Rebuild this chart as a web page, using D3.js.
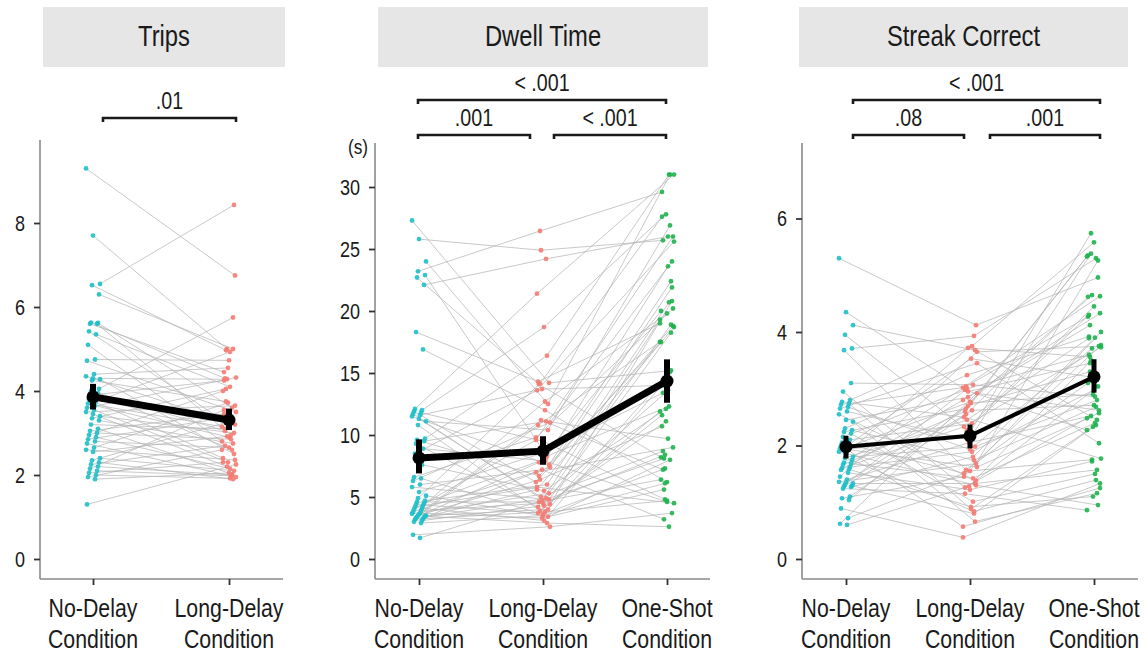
<!DOCTYPE html>
<html><head><meta charset="utf-8">
<script src="https://cdn.jsdelivr.net/npm/d3@7"></script>
<style>
body{margin:0;background:#fff;}
svg text{font-family:"Liberation Sans",Arial,sans-serif;fill:#1a1a1a;}
</style></head><body>
<svg id="c" width="1146" height="654"></svg>
<script>
// ---------------- data ----------------
const conditions2 = ["No-Delay", "Long-Delay"];
const conditions3 = ["No-Delay", "Long-Delay", "One-Shot"];
const panelTitles = ["Trips", "Dwell Time", "Streak Correct"];

const tripsNoDelay = [9.3,7.7,6.55,6.52,6.3,5.63,5.62,5.6,5.6,5.42,5.35,5.1,4.75,4.72,4.4,4.35,4.3,4.28,4.25,4.05,4.0,3.95,3.9,3.85,3.8,3.75,3.7,3.65,3.6,3.55,3.5,3.45,3.4,3.35,3.3,3.2,3.1,3.05,3.0,2.95,2.9,2.85,2.8,2.75,2.65,2.6,2.55,2.4,2.35,2.3,2.25,2.2,2.15,2.1,2.05,2.0,1.95,1.9,1.3];
const tripsLongDelay = [6.75,5.0,8.43,4.97,5.0,4.3,3.6,4.45,2.95,3.3,4.1,2.8,4.73,3.5,4.55,3.2,4.28,2.5,3.75,5.75,3.05,2.6,4.25,3.4,2.4,4.93,3.15,2.9,4.32,2.3,3.65,2.2,3.0,4.05,2.75,3.1,2.02,3.45,2.85,4.0,2.15,3.35,2.65,1.95,3.72,2.36,2.92,2.1,3.25,1.9,2.7,2.0,3.55,1.98,2.3,1.92,2.6,2.05,2.25];

const dwellNoDelay = [27.3,25.8,24.0,23.2,22.9,22.7,22.1,18.3,16.9,12.1,12.0,11.9,11.8,11.7,11.6,11.5,11.3,11.1,10.8,9.7,9.6,9.5,9.3,8.9,8.5,7.6,6.6,6.5,6.3,6.0,5.8,5.4,5.1,4.9,4.7,4.6,4.5,4.4,4.3,4.2,4.1,4.0,3.9,3.8,3.7,3.65,3.6,3.5,3.5,3.45,3.4,3.35,3.3,3.25,3.2,3.1,3.0,2.9,1.95,1.7];
const dwellLongDelay = [14.2,24.9,12.5,26.45,8.3,14.1,24.2,14.3,12.0,21.4,18.7,6.2,9.5,4.4,13.7,7.6,5.0,10.4,3.9,16.4,6.7,11.1,4.2,7.9,13.6,5.5,9.8,3.6,11.0,7.2,4.8,8.5,3.4,14.15,6.0,4.6,8.1,3.7,12.7,5.8,3.1,9.6,4.5,7.4,3.3,5.3,11.2,4.0,6.4,2.9,7.8,4.9,10.8,3.8,5.6,4.3,7.0,3.5,2.6,4.7];
const dwellOneShot = [15.2,25.7,31.0,29.6,12.3,8.2,26.0,19.0,6.2,31.0,27.8,18.8,4.8,20.8,14.0,22.4,8.7,26.9,11.6,31.0,17.5,9.7,19.3,4.6,25.6,12.1,20.2,7.3,24.0,3.2,18.25,13.4,8.0,27.6,20.7,6.4,23.6,11.9,19.8,4.5,14.4,26.0,8.4,21.9,5.6,18.9,7.2,15.1,10.7,2.6,20.0,13.6,17.5,4.7,18.7,11.1,9.0,6.1,3.7,8.1];

const streakNoDelay = [5.30,4.35,4.12,3.95,3.71,3.68,3.10,2.95,2.80,2.77,2.74,2.72,2.68,2.65,2.6,2.55,2.45,2.42,2.30,2.27,2.24,2.21,2.15,2.10,2.05,2.02,2.0,1.97,1.95,1.93,1.89,1.85,1.80,1.78,1.74,1.70,1.68,1.66,1.62,1.60,1.58,1.57,1.52,1.45,1.40,1.36,1.35,1.33,1.31,1.29,1.28,1.27,1.24,1.10,1.07,1.04,0.89,0.72,0.62,0.60];
const streakLongDelay = [4.12,2.95,3.68,2.27,3.93,1.57,3.07,1.26,3.75,2.50,0.88,3.02,1.93,3.45,2.10,1.38,2.85,0.66,3.24,1.74,2.65,1.01,2.98,2.39,1.51,3.53,0.57,2.77,1.62,2.2,1.30,3.72,1.98,2.45,0.84,3.04,1.42,2.60,1.89,2.33,0.92,2.80,1.22,3.65,2.05,1.68,2.70,1.33,3.0,0.80,2.55,1.8,1.15,2.62,1.45,2.75,0.38,1.55,2.92,1.28];
const streakOneShot = [4.96,3.45,2.45,4.30,5.30,3.10,2.86,2.48,5.58,1.77,2.33,4.63,3.71,2.04,5.38,3.04,4.12,1.16,3.92,2.68,5.35,1.50,2.27,4.45,3.77,3.20,1.25,4.65,2.57,5.74,0.95,3.56,2.80,3.89,1.39,4.27,2.40,5.33,2.98,3.73,1.10,4.33,1.72,3.75,2.52,5.26,3.3,1.57,3.6,2.36,4.62,3.90,0.86,2.71,4.0,2.9,1.33,1.75,2.62,3.50];

const tripsMean = [3.86, 3.31], tripsLow = [3.56, 3.07], tripsHigh = [4.17, 3.58];
const dwellMean = [8.15, 8.7, 14.35], dwellLow = [6.9, 7.6, 12.6], dwellHigh = [9.65, 9.9, 16.1];
const streakMean = [1.98, 2.17, 3.21], streakLow = [1.77, 1.95, 2.93], streakHigh = [2.17, 2.37, 3.52];

const tripsTicks = [0, 2, 4, 6, 8];
const dwellTicks = [0, 5, 10, 15, 20, 25, 30];
const streakTicks = [0, 2, 4, 6];

const tripsSigLabels = [".01"];
const dwellSigLabels = ["< .001", ".001", "< .001"];
const streakSigLabels = ["< .001", ".08", ".001"];

const conditionColors = ["#1fbfc8", "#f47c73", "#1fb34f"];

// ---------------- layout ----------------
const svg = d3.select("#c");
const axisBottomY = 579;
const NARROW = 0.82;

function addText(parent, x, y, str, size, anchor) {
  return parent.append("text")
    .attr("transform", `translate(${x},${y}) scale(${NARROW},1)`)
    .attr("text-anchor", anchor || "middle")
    .attr("font-size", size).text(str);
}

const panels = [
  { title: panelTitles[0], cats: conditions2, series: [tripsNoDelay, tripsLongDelay],
    mean: tripsMean, lo: tripsLow, hi: tripsHigh, ticks: tripsTicks, ymax: 10,
    yTopPx: 139, axisX: 40, axisTop: 140, xRange: [93, 229], xEnd: 283,
    box: [43, 285], lineW: 7, barW: 6, unit: null,
    brackets: [{a: 0, b: 1, da: 10, db: 7, y: 118, label: tripsSigLabels[0]}] },
  { title: panelTitles[1], cats: conditions3, series: [dwellNoDelay, dwellLongDelay, dwellOneShot],
    mean: dwellMean, lo: dwellLow, hi: dwellHigh, ticks: dwellTicks, ymax: 30,
    yTopPx: 187, axisX: 375, axisTop: 143, xRange: [419, 667], xEnd: 710,
    box: [378, 708], lineW: 7, barW: 6, unit: "(s)",
    brackets: [{a: 0, b: 2, da: -1, db: -1, y: 100, label: dwellSigLabels[0]},
               {a: 0, b: 1, da: -1, db: -13, y: 135, label: dwellSigLabels[1]},
               {a: 1, b: 2, da: 11, db: -1, y: 135, label: dwellSigLabels[2]}] },
  { title: panelTitles[2], cats: conditions3, series: [streakNoDelay, streakLongDelay, streakOneShot],
    mean: streakMean, lo: streakLow, hi: streakHigh, ticks: streakTicks, ymax: 6,
    yTopPx: 218.5, axisX: 802, axisTop: 143, xRange: [846, 1094], xEnd: 1138,
    box: [799, 1128], lineW: 4, barW: 5, unit: null,
    brackets: [{a: 0, b: 2, da: 7, db: 6, y: 100, label: streakSigLabels[0]},
               {a: 0, b: 1, da: 7, db: -6, y: 135, label: streakSigLabels[1]},
               {a: 1, b: 2, da: 20, db: 6, y: 135, label: streakSigLabels[2]}] }
];

function jitter(i, c) { return ((i * 37 + c * 13) % 15) - 7; }

panels.forEach(p => {
  const g = svg.append("g");
  const y = d3.scaleLinear().domain([0, p.ymax]).range([559, p.yTopPx]);
  const x = d3.scalePoint().domain(p.cats).range(p.xRange);

  // header
  g.append("rect").attr("x", p.box[0]).attr("y", 7).attr("width", p.box[1] - p.box[0]).attr("height", 60)
    .attr("fill", "#e6e6e6");
  addText(g, (p.box[0] + p.box[1]) / 2, 46, p.title, 29);

  // brackets
  p.brackets.forEach(b => {
    const x1 = x(p.cats[b.a]) + b.da, x2 = x(p.cats[b.b]) + b.db;
    g.append("path").attr("d", `M${x1},${b.y + 4}V${b.y}H${x2}V${b.y + 4}`)
      .attr("fill", "none").attr("stroke", "#1a1a1a").attr("stroke-width", 2.6);
    addText(g, (x1 + x2) / 2, b.y - 9, b.label, 24);
  });

  // participant lines
  const n = p.series[0].length;
  const lineGen = d3.line().x(d => d[0]).y(d => d[1]);
  const pts = d3.range(n).map(i => p.series.map((s, c) => [x(p.cats[c]) + jitter(i, c), y(s[i])]));
  g.append("g").selectAll("path").data(pts).join("path")
    .attr("d", lineGen).attr("fill", "none").attr("stroke", "#b4b4b4")
    .attr("stroke-width", 0.9).attr("stroke-opacity", 0.8);

  // participant points
  p.series.forEach((s, c) => {
    g.append("g").selectAll("circle").data(s).join("circle")
      .attr("cx", (d, i) => x(p.cats[c]) + jitter(i, c)).attr("cy", d => y(d))
      .attr("r", 2.4).attr("fill", conditionColors[c]).attr("fill-opacity", 0.9);
  });

  // mean line
  g.append("path").datum(p.mean).attr("d", d3.line().x((d, i) => x(p.cats[i])).y(d => y(d)))
    .attr("fill", "none").attr("stroke", "#000").attr("stroke-width", p.lineW);
  // error bars
  g.append("g").selectAll("line").data(p.mean).join("line")
    .attr("x1", (d, i) => x(p.cats[i])).attr("x2", (d, i) => x(p.cats[i]))
    .attr("y1", (d, i) => y(p.lo[i])).attr("y2", (d, i) => y(p.hi[i]))
    .attr("stroke", "#000").attr("stroke-width", p.barW);
  g.append("g").selectAll("circle").data(p.mean).join("circle")
    .attr("cx", (d, i) => x(p.cats[i])).attr("cy", d => y(d)).attr("r", 6.5).attr("fill", "#000");

  // axes lines
  g.append("line").attr("x1", p.axisX).attr("x2", p.axisX).attr("y1", p.axisTop).attr("y2", axisBottomY)
    .attr("stroke", "#8a8a8a").attr("stroke-width", 1.6);
  g.append("line").attr("x1", p.axisX).attr("x2", p.xEnd).attr("y1", axisBottomY).attr("y2", axisBottomY)
    .attr("stroke", "#8a8a8a").attr("stroke-width", 1.6);

  // y axis ticks
  const ya = g.append("g").attr("transform", `translate(${p.axisX},0)`)
    .call(d3.axisLeft(y).tickValues(p.ticks).tickSize(6).tickPadding(8).tickFormat(d3.format("d")));
  ya.select(".domain").remove();
  ya.attr("font-family", null).attr("font-size", null);
  ya.selectAll(".tick line").attr("stroke", "#333").attr("stroke-width", 1.8);
  ya.selectAll(".tick text").attr("font-size", 22).attr("fill", "#1a1a1a")
    .attr("x", null).attr("transform", `translate(-15,0) scale(${NARROW},1)`);

  // x axis ticks
  const xa = g.append("g").attr("transform", `translate(0,${axisBottomY})`)
    .call(d3.axisBottom(x).tickSize(6).tickFormat(""));
  xa.select(".domain").remove();
  xa.attr("font-family", null);
  xa.selectAll(".tick line").attr("stroke", "#333").attr("stroke-width", 1.8);
  p.cats.forEach(cat => {
    addText(g, x(cat), 617, cat, 26);
    addText(g, x(cat), 648, "Condition", 26);
  });

  if (p.unit) addText(g, p.axisX - 17, 154, p.unit, 21);
});
</script>
</body></html>
